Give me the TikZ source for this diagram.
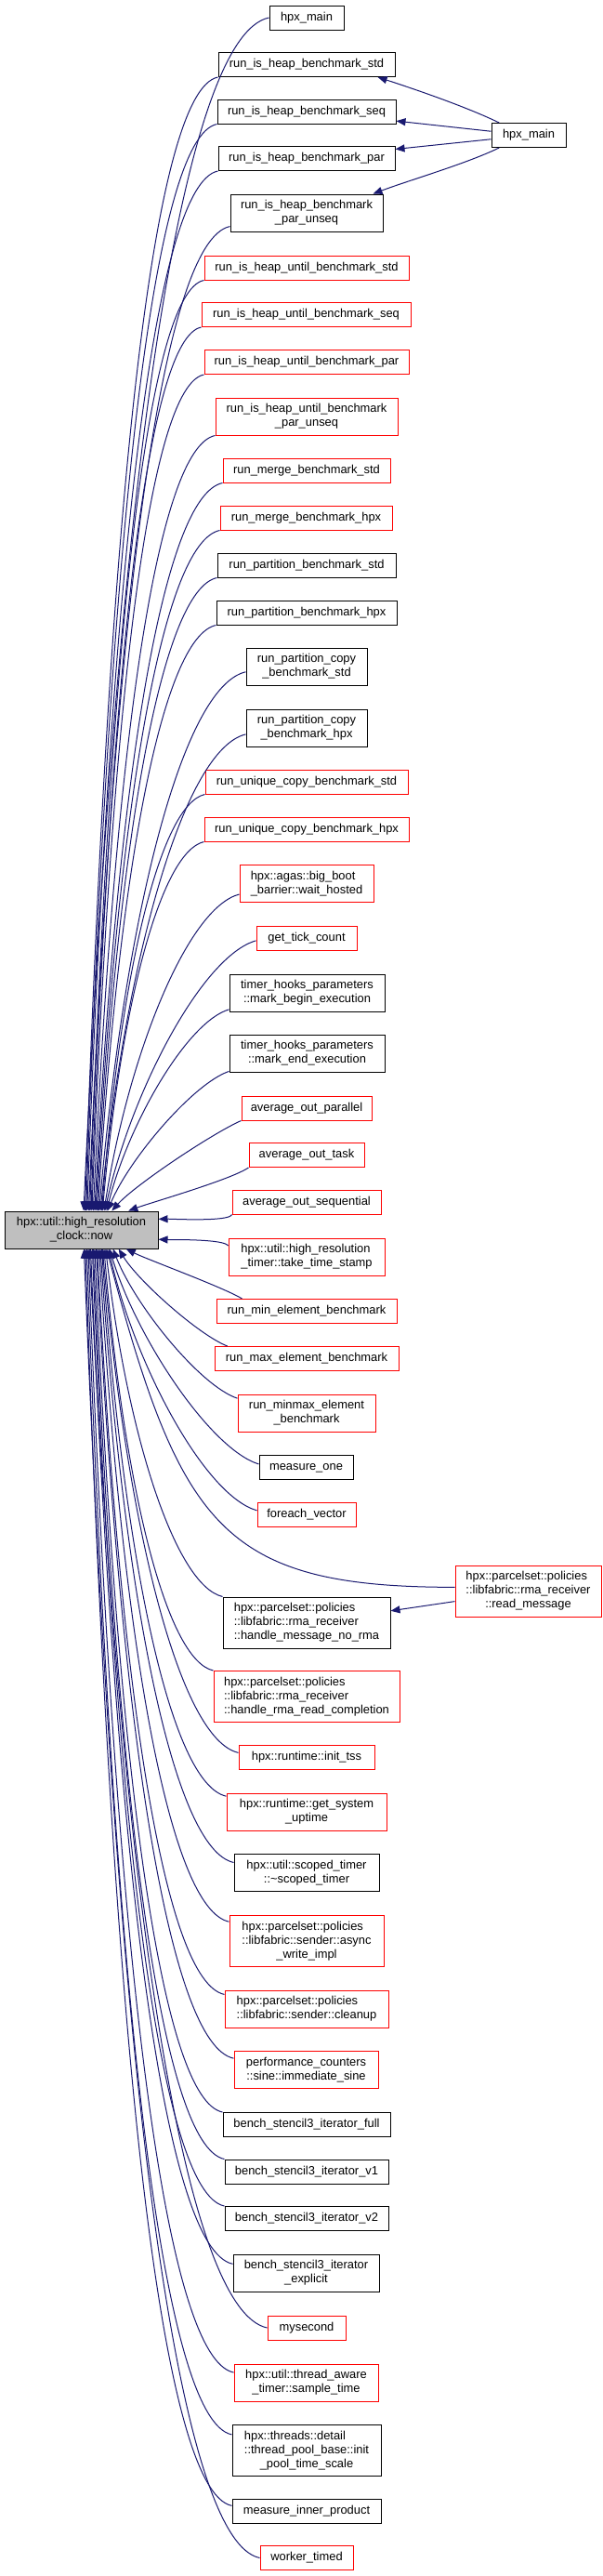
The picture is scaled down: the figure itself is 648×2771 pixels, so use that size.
\documentclass[tikz,border=0pt]{standalone}
\usepackage{fontspec}
\setmainfont{Liberation Sans}
\usetikzlibrary{arrows.meta,calc}
\definecolor{edgecol}{HTML}{191970}
\definecolor{curfill}{HTML}{BFBFBF}
\newcommand{\mlines}[1]{\begin{tabular}{@{}l@{}}#1\end{tabular}}
\newcommand{\lastc}[1]{\multicolumn{1}{@{}c@{}}{#1}}
\newcommand{\Nd}[7]{\node[#1,minimum width=#5pt,minimum height=#6pt] (#2) at (#3,#4) {\mlines{#7}};}
\newcommand{\callE}[2]{%
  \draw[calls] let \p1=(#1), \p2=(#2),
     \n1={\x1-\x2}, \n2={\y1-\y2}, \n3={abs(\n2)}, \n4={\n3/(\n3+\n1)} in
     (\p1) .. controls ({\x1-0.55*\n1*\n4}, {\y1-0.1*\n1*(\n2/\n3)})
              and ({\x2+0.18*\n1}, {\y2+0.7*\n2*\n4}) .. (\p2);}
\tikzset{
  nd/.style={rectangle, draw, line width=1pt, inner sep=0pt,
             font=\fontsize{12.9pt}{15pt}\selectfont},
  blk/.style={nd, draw=black},
  rd/.style={nd, draw=red},
  cur/.style={nd, draw=black, fill=curfill},
  calls/.style={draw=edgecol, line width=1pt, -{Triangle[length=10pt,width=8pt]}}
}
\begin{document}
\begin{tikzpicture}[x=1pt,y=-1pt]
\fill[white] (0,0) rectangle (648,2771);
\useasboundingbox (0,0) rectangle (648,2771);

\Nd{blk}{hpxmainA}{330}{19}{80}{26}{hpx\_main}
\Nd{blk}{ihstd}{330}{69.5}{190}{26}{run\_is\_heap\_benchmark\_std}
\Nd{blk}{ihseq}{330}{120}{192}{26}{run\_is\_heap\_benchmark\_seq}
\Nd{blk}{ihpar}{330}{170.5}{190}{26}{run\_is\_heap\_benchmark\_par}
\Nd{blk}{ihpu}{330}{229}{164}{40}{run\_is\_heap\_benchmark\\\lastc{\_par\_unseq}}
\Nd{blk}{hpxmainB}{569}{145.5}{80}{26}{hpx\_main}
\Nd{rd}{ihustd}{330}{288}{220}{26}{run\_is\_heap\_until\_benchmark\_std}
\Nd{rd}{ihuseq}{329.5}{338.5}{225}{26}{run\_is\_heap\_until\_benchmark\_seq}
\Nd{rd}{ihupar}{330}{389.5}{220}{26}{run\_is\_heap\_until\_benchmark\_par}
\Nd{rd}{ihupu}{330}{448}{196}{40}{run\_is\_heap\_until\_benchmark\\\lastc{\_par\_unseq}}
\Nd{rd}{mstd}{330}{506}{180}{26}{run\_merge\_benchmark\_std}
\Nd{rd}{mhpx}{329.5}{557}{185}{26}{run\_merge\_benchmark\_hpx}
\Nd{blk}{pstd}{330}{608}{192}{26}{run\_partition\_benchmark\_std}
\Nd{blk}{phpx}{330}{659}{194}{26}{run\_partition\_benchmark\_hpx}
\Nd{blk}{pcstd}{330}{717}{130}{40}{run\_partition\_copy\\\lastc{\_benchmark\_std}}
\Nd{blk}{pchpx}{330}{783}{130}{40}{run\_partition\_copy\\\lastc{\_benchmark\_hpx}}
\Nd{rd}{ucstd}{330}{841}{218}{26}{run\_unique\_copy\_benchmark\_std}
\Nd{rd}{uchpx}{330}{892}{220}{26}{run\_unique\_copy\_benchmark\_hpx}
\Nd{rd}{bigboot}{330}{950.5}{144}{40}{hpx::agas::big\_boot\\\lastc{\_barrier::wait\_hosted}}
\Nd{rd}{tick}{330}{1009}{108}{26}{get\_tick\_count}
\Nd{blk}{thbegin}{330.5}{1068}{167}{40}{timer\_hooks\_parameters\\\lastc{::mark\_begin\_execution}}
\Nd{blk}{thend}{330.5}{1133}{167}{40}{timer\_hooks\_parameters\\\lastc{::mark\_end\_execution}}
\Nd{rd}{avgpar}{330}{1192}{140}{26}{average\_out\_parallel}
\Nd{rd}{avgtask}{330}{1242.5}{124}{26}{average\_out\_task}
\Nd{rd}{avgseq}{330}{1293}{160}{26}{average\_out\_sequential}
\Nd{cur}{now}{87.5}{1323}{165}{40}{hpx::util::high\_resolution\\\lastc{\_clock::now}}
\Nd{rd}{tts}{330}{1352}{168}{40}{hpx::util::high\_resolution\\\lastc{\_timer::take\_time\_stamp}}
\Nd{rd}{minel}{330}{1410.5}{194}{26}{run\_min\_element\_benchmark}
\Nd{rd}{maxel}{330}{1461.5}{198}{26}{run\_max\_element\_benchmark}
\Nd{rd}{minmax}{330}{1520}{148}{40}{run\_minmax\_element\\\lastc{\_benchmark}}
\Nd{blk}{mone}{329.5}{1578.5}{101}{26}{measure\_one}
\Nd{rd}{fev}{330}{1629.5}{106}{26}{foreach\_vector}
\Nd{rd}{readmsg}{568.5}{1711.5}{157}{55}{hpx::parcelset::policies\\::libfabric::rma\_receiver\\\lastc{::read\_message}}
\Nd{blk}{hmnr}{330}{1745.5}{180}{55}{hpx::parcelset::policies\\::libfabric::rma\_receiver\\\lastc{::handle\_message\_no\_rma}}
\Nd{rd}{hrrc}{330}{1825}{200}{55}{hpx::parcelset::policies\\::libfabric::rma\_receiver\\\lastc{::handle\_rma\_read\_completion}}
\Nd{rd}{itss}{330}{1890.5}{146}{26}{hpx::runtime::init\_tss}
\Nd{rd}{uptime}{330}{1949}{172}{40}{hpx::runtime::get\_system\\\lastc{\_uptime}}
\Nd{blk}{scoped}{330}{2014.5}{156}{40}{hpx::util::scoped\_timer\\\lastc{::\textasciitilde{}scoped\_timer}}
\Nd{rd}{asyncw}{330}{2088}{166}{55}{hpx::parcelset::policies\\::libfabric::sender::async\\\lastc{\_write\_impl}}
\Nd{rd}{cleanup}{330}{2161}{176}{40}{hpx::parcelset::policies\\\lastc{::libfabric::sender::cleanup}}
\Nd{rd}{sine}{329.5}{2226.5}{155}{40}{performance\_counters\\\lastc{::sine::immediate\_sine}}
\Nd{blk}{bsfull}{330}{2285.5}{180}{26}{bench\_stencil3\_iterator\_full}
\Nd{blk}{bsv1}{330}{2336}{176}{26}{bench\_stencil3\_iterator\_v1}
\Nd{blk}{bsv2}{330}{2386.5}{176}{26}{bench\_stencil3\_iterator\_v2}
\Nd{blk}{bsexp}{329.5}{2445}{157}{40}{bench\_stencil3\_iterator\\\lastc{\_explicit}}
\Nd{rd}{mysec}{330}{2504}{84}{26}{mysecond}
\Nd{rd}{sample}{329.5}{2563}{155}{40}{hpx::util::thread\_aware\\\lastc{\_timer::sample\_time}}
\Nd{blk}{initpool}{330}{2636}{160}{55}{hpx::threads::detail\\::thread\_pool\_base::init\\\lastc{\_pool\_time\_scale}}
\Nd{blk}{minner}{330}{2701}{160}{26}{measure\_inner\_product}
\Nd{rd}{wtimed}{330}{2751.5}{100}{26}{worker\_timed}

% callers above
\callE{hpxmainA.west}{now.83}
\callE{ihstd.south west}{now.79}
\callE{ihseq.south west}{now.76}
\callE{ihpar.south west}{now.73}
\callE{ihpu.190}{now.69}
\callE{ihustd.south west}{now.66}
\callE{ihuseq.south west}{now.63}
\callE{ihupar.south west}{now.61}
\callE{ihupu.south west}{now.58}
\callE{mstd.south west}{now.55}
\callE{mhpx.south west}{now.53}
\callE{pstd.south west}{now.51}
\callE{phpx.south west}{now.49}
\callE{pcstd.185}{now.47}
\callE{pchpx.186}{now.45}
\callE{ucstd.south west}{now.43}
\callE{uchpx.south west}{now.42}
\callE{bigboot.189}{now.40}
\callE{tick.183}{now.39}
\callE{thbegin.192}{now.37}
\callE{thend.193}{now.36}
\callE{avgpar.south west}{now.32}
\callE{avgtask.south west}{now.22}
\callE{avgseq.south west}{now.8}
\callE{tts.172}{now.-7}
% callers below
\callE{minel.169}{now.-23}
\callE{maxel.171}{now.-27}
\callE{minmax.168}{now.-31}
\callE{mone.176}{now.-34}
\callE{fev.175}{now.-35}
\draw[calls] (readmsg.177) .. controls +(-250,0) and +(80,300) .. (now.-37);
\callE{hmnr.north west}{now.-38}
\callE{hrrc.north west}{now.-40}
\callE{itss.176}{now.-42}
\callE{uptime.169}{now.-43}
\callE{scoped.172}{now.-45}
\callE{asyncw.166}{now.-47}
\callE{cleanup.170}{now.-50}
\callE{sine.171}{now.-52}
\callE{bsfull.north west}{now.-55}
\callE{bsv1.north west}{now.-58}
\callE{bsv2.north west}{now.-60}
\callE{bsexp.173}{now.-64}
\callE{mysec.west}{now.-67}
\callE{sample.172}{now.-70}
\callE{initpool.168}{now.-74}
\callE{minner.176}{now.-78}
\callE{wtimed.west}{now.-82}

% second level
\draw[calls] (hpxmainB.157) .. controls +(-35,-17) and +(40,13) .. (ihstd.-10);
\draw[calls] (hpxmainB.174) -- (ihseq.-6);
\draw[calls] (hpxmainB.186) -- (ihpar.6);
\draw[calls] (hpxmainB.203) .. controls +(-35,17) and +(40,-15) .. (ihpu.16);
\draw[calls] (readmsg.188) -- (hmnr.8);
\end{tikzpicture}
\end{document}
